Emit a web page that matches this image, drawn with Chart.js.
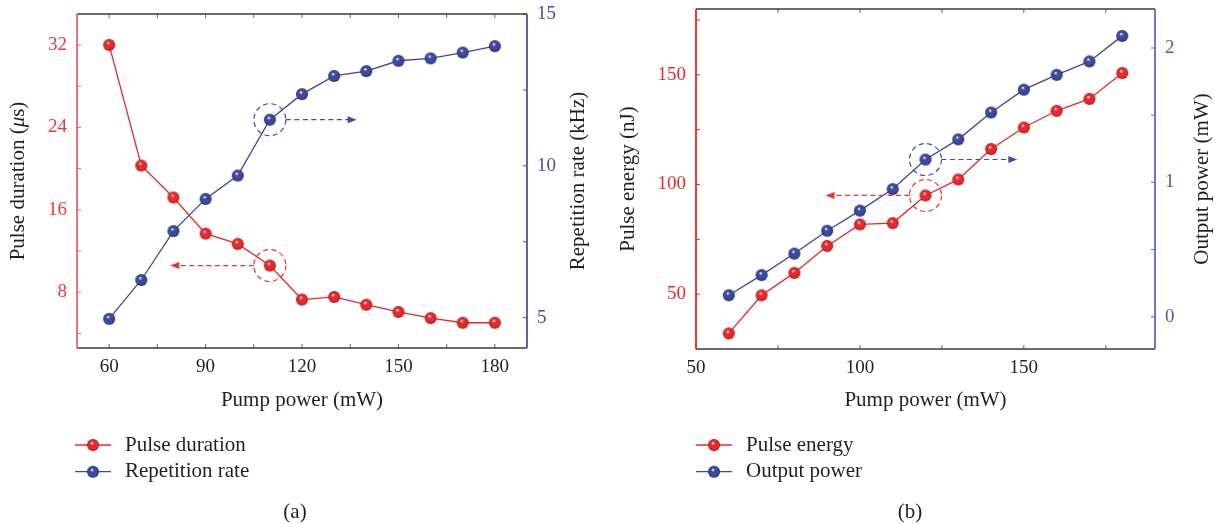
<!DOCTYPE html>
<html><head><meta charset="utf-8">
<script src="https://cdn.jsdelivr.net/npm/chart.js@4/dist/chart.umd.min.js"></script>
<style>
html,body{margin:0;padding:0;background:#fff;}
#wrap{position:relative;width:1215px;height:524px;overflow:hidden;}
.panel{position:absolute;top:0;height:524px;}
</style></head><body>
<div id="wrap">
<div class="panel" style="left:0;width:607px"><canvas id="ca"></canvas></div>
<div class="panel" style="left:607px;width:608px"><canvas id="cb"></canvas></div>
</div>
<script>
// ---- data ----
const pumpPower      = [60,70,80,90,100,110,120,130,140,150,160,170,180];
const pulseDuration  = [32.0,20.3,17.2,13.7,12.7,10.6,7.3,7.55,6.8,6.1,5.5,5.05,5.05];
const repetitionRate = [4.96,6.24,7.85,8.91,9.68,11.52,12.36,12.96,13.12,13.46,13.54,13.73,13.94];
const pulseEnergy    = [32.1,49.5,59.7,72.0,81.8,82.4,95.0,102.3,116.2,126.0,133.6,139.0,150.8];
const outputPower    = [0.16,0.31,0.47,0.64,0.79,0.95,1.17,1.32,1.52,1.69,1.80,1.90,2.09];

const xTicksA = [60,90,120,150,180];   const xMinorA = [75,105,135,165];
const yTicksA = [8,16,24,32];          const yMinorA = [4,12,20,28];
const y1TicksA = [5,10,15];            const y1MinorA = [7.5,12.5];
const xTicksB = [50,100,150];          const xMinorB = [75,125,175];
const yTicksB = [50,100,150];          const yMinorB = [75,125,175];
const y1TicksB = [0,1,2];              const y1MinorB = [0.5,1.5];

const RED = '#e8282a', BLUE = '#3a4a9c', TXT = '#231f20';
const FONT = '"Liberation Serif", "Times New Roman", serif';

function sphere(base, dark, r){
  const s = Math.ceil(r*2)+2, c = document.createElement('canvas');
  c.width = c.height = s;
  const g = c.getContext('2d'), cx = s/2, cy = s/2;
  const gr = g.createRadialGradient(cx-r*0.2, cy-r*0.35, r*0.05, cx, cy, r);
  gr.addColorStop(0,'#ffffff'); gr.addColorStop(0.28, base); gr.addColorStop(0.75, base); gr.addColorStop(1, dark);
  g.fillStyle = gr; g.beginPath(); g.arc(cx,cy,r,0,Math.PI*2); g.fill();
  return c;
}
const redBall = sphere(RED, '#a51414', 6);
const blueBall = sphere(BLUE, '#1c2564', 6);

function pts(xs, ys){ return xs.map((x,i)=>({x, y: ys[i]})); }

function decor(cfg){
  return {id:'decor', afterDraw(chart){
    const {ctx, chartArea:a, scales} = chart;
    const sx = scales.x, yl = scales.y, yr = scales.y1;
    ctx.save();
    const ln = (x1,y1,x2,y2)=>{ctx.beginPath();ctx.moveTo(x1,y1);ctx.lineTo(x2,y2);ctx.stroke();};
    const tl = 4;
    // tick marks (inward)
    ctx.lineWidth = 1; ctx.strokeStyle = '#666';
    cfg.xMajor.concat(cfg.xMinor).forEach(v=>{const p = sx.getPixelForValue(v); ln(p,a.bottom,p,a.bottom-tl); ln(p,a.top,p,a.top+tl);});
    ctx.strokeStyle = cfg.leftAxis;
    cfg.yMajor.concat(cfg.yMinor).forEach(v=>{const p = yl.getPixelForValue(v); ln(a.left,p,a.left+tl,p);});
    ctx.strokeStyle = cfg.rightAxis;
    cfg.y1Major.concat(cfg.y1Minor).forEach(v=>{const p = yr.getPixelForValue(v); ln(a.right,p,a.right-tl,p);});
    // frame
    ctx.lineWidth = 1.6; ctx.strokeStyle = '#3a3a3a';
    ln(a.left,a.top,a.right,a.top); ln(a.left,a.bottom,a.right,a.bottom);
    ctx.lineWidth = 1.8;
    ctx.strokeStyle = cfg.leftAxis; ln(a.left,a.top,a.left,a.bottom);
    ctx.strokeStyle = cfg.rightAxis; ln(a.right,a.top,a.right,a.bottom);
    // annotations
    cfg.annot.forEach(an=>{
      const el = chart.getDatasetMeta(an.dataset).data[an.index];
      const px = el.x, py = el.y, r = 16;
      ctx.strokeStyle = an.color; ctx.fillStyle = an.color; ctx.lineWidth = 1.2;
      ctx.setLineDash([5,3.5]);
      ctx.beginPath(); ctx.arc(px,py,r,0,Math.PI*2); ctx.stroke();
      const ex = sx.getPixelForValue(an.toX), d = an.dir;
      ctx.beginPath(); ctx.moveTo(px+d*r,py); ctx.lineTo(ex - d*7,py); ctx.stroke();
      ctx.setLineDash([]);
      ctx.beginPath(); ctx.moveTo(ex,py); ctx.lineTo(ex-d*9,py-3.5); ctx.lineTo(ex-d*9,py+3.5); ctx.closePath(); ctx.fill();
    });
    // axis titles
    ctx.fillStyle = TXT; ctx.textBaseline = 'middle';
    const rot = (parts, cx, cy)=>{
      ctx.save(); ctx.translate(cx,cy); ctx.rotate(-Math.PI/2);
      let w = 0; parts.forEach(p=>{ctx.font = p.f; w += ctx.measureText(p.t).width;});
      let x = -w/2; ctx.textAlign = 'left';
      parts.forEach(p=>{ctx.font = p.f; ctx.fillText(p.t, x, 0); x += ctx.measureText(p.t).width;});
      ctx.restore();
    };
    const mid = (a.top + a.bottom)/2;
    rot(cfg.leftTitle, cfg.leftTitleX, mid);
    rot([{t:cfg.rightTitle, f:'21px '+FONT}], cfg.rightTitleX, mid);
    ctx.font = '21px '+FONT; ctx.textAlign = 'center';
    ctx.fillText(cfg.xTitle, (a.left+a.right)/2, 400);
    // legend
    cfg.legend.forEach((lg,i)=>{
      const y = 445 + i*26.7;
      ctx.strokeStyle = lg.color; ctx.lineWidth = 1.3;
      ln(cfg.legendX-18, y, cfg.legendX+18, y);
      ctx.drawImage(lg.ball, cfg.legendX - lg.ball.width/2, y - lg.ball.height/2);
      ctx.fillStyle = TXT; ctx.textAlign = 'left'; ctx.font = '21px '+FONT;
      ctx.fillText(lg.text, cfg.legendX + 32, y);
    });
    // caption
    ctx.textAlign = 'center'; ctx.fillText(cfg.caption, cfg.captionX, 512);
    ctx.restore();
  }};
}

function noPadV(s, w){ s.width = w; s.paddingTop = 0; s.paddingBottom = 0; }
function noPadH(s, h){ s.height = h; s.paddingLeft = 0; s.paddingRight = 0; }

function makeChart(id, o){
  const tickFont = {family: FONT, size: 19};
  return new Chart(document.getElementById(id), {
    type: 'line',
    data: {datasets: [
      {label: o.names[0], data: pts(pumpPower, o.d0), yAxisID: 'y', borderColor: RED, borderWidth: 1.3,
       pointStyle: redBall, pointRadius: 6, pointHoverRadius: 6},
      {label: o.names[1], data: pts(pumpPower, o.d1), yAxisID: 'y1', borderColor: BLUE, borderWidth: 1.3,
       pointStyle: blueBall, pointRadius: 6, pointHoverRadius: 6}
    ]},
    options: {
      responsive: true, maintainAspectRatio: false, animation: false,
      layout: {autoPadding: false, padding: {top: o.top, bottom: 0, left: 0, right: 0}},
      plugins: {legend: {display: false}, tooltip: {enabled: false}},
      scales: {
        x: {type: 'linear', min: o.xMin, max: o.xMax,
            afterBuildTicks: s => { s.ticks = o.xT.map(v=>({value:v})); },
            afterFit: s => noPadH(s, o.xH),
            grid: {display: false, drawTicks: false}, border: {display: false},
            ticks: {color: TXT, font: tickFont, padding: 8}},
        y: {type: 'linear', position: 'left', min: o.yMin, max: o.yMax,
            afterBuildTicks: s => { s.ticks = o.yT.map(v=>({value:v})); },
            afterFit: s => noPadV(s, o.lW),
            grid: {display: false, drawTicks: false}, border: {display: false},
            ticks: {color: o.leftTickColor, font: tickFont, padding: 10}},
        y1: {type: 'linear', position: 'right', min: o.y1Min, max: o.y1Max,
            afterBuildTicks: s => { s.ticks = o.y1T.map(v=>({value:v})); },
            afterFit: s => noPadV(s, o.rW),
            grid: {display: false, drawTicks: false}, border: {display: false},
            ticks: {color: o.rightTickColor, font: tickFont, padding: 10}}
      }
    },
    plugins: [decor(o.decor)]
  });
}

makeChart('ca', {
  names: ['Pulse duration','Repetition rate'], d0: pulseDuration, d1: repetitionRate,
  top: 14, xH: 176, lW: 77, rW: 80, leftTickColor: '#ea3a3a', rightTickColor: '#3f4fa3',
  xMin: 50, xMax: 190, yMin: 2.6, yMax: 35, y1Min: 4, y1Max: 15,
  xT: xTicksA, yT: yTicksA, y1T: y1TicksA,
  decor: {
    xMajor: xTicksA, xMinor: xMinorA, yMajor: yTicksA, yMinor: yMinorA, y1Major: y1TicksA, y1Minor: y1MinorA,
    leftAxis: '#f06464', rightAxis: '#4455aa',
    leftTitle: [{t:'Pulse duration (', f:'21px '+FONT},{t:'μ', f:'italic 21px '+FONT},{t:'s)', f:'21px '+FONT}],
    leftTitleX: 18, rightTitle: 'Repetition rate (kHz)', rightTitleX: 578, xTitle: 'Pump power (mW)',
    annot: [{dataset:1, index:5, dir:1, toX:137, color:'#3a4eaa'}, {dataset:0, index:5, dir:-1, toX:79, color:'#ee3333'}],
    legendX: 93, legend: [{text:'Pulse duration', color:RED, ball:redBall},{text:'Repetition rate', color:BLUE, ball:blueBall}],
    caption: '(a)', captionX: 295
  }
});

makeChart('cb', {
  names: ['Pulse energy','Output power'], d0: pulseEnergy, d1: outputPower,
  top: 9, xH: 175, lW: 89, rW: 60, leftTickColor: '#ea2a2a', rightTickColor: '#4a5cab',
  xMin: 50, xMax: 190, yMin: 25, yMax: 180, y1Min: -0.24, y1Max: 2.29,
  xT: xTicksB, yT: yTicksB, y1T: y1TicksB,
  decor: {
    xMajor: xTicksB, xMinor: xMinorB, yMajor: yTicksB, yMinor: yMinorB, y1Major: y1TicksB, y1Minor: y1MinorB,
    leftAxis: '#ee2222', rightAxis: '#5b6cb4',
    leftTitle: [{t:'Pulse energy (nJ)', f:'21px '+FONT}],
    leftTitleX: 21, rightTitle: 'Output power (mW)', rightTitleX: 595, xTitle: 'Pump power (mW)',
    annot: [{dataset:1, index:6, dir:1, toX:148, color:'#3a4eaa'}, {dataset:0, index:6, dir:-1, toX:89.5, color:'#ee3333'}],
    legendX: 107, legend: [{text:'Pulse energy', color:RED, ball:redBall},{text:'Output power', color:BLUE, ball:blueBall}],
    caption: '(b)', captionX: 303
  }
});
</script>
</body></html>
